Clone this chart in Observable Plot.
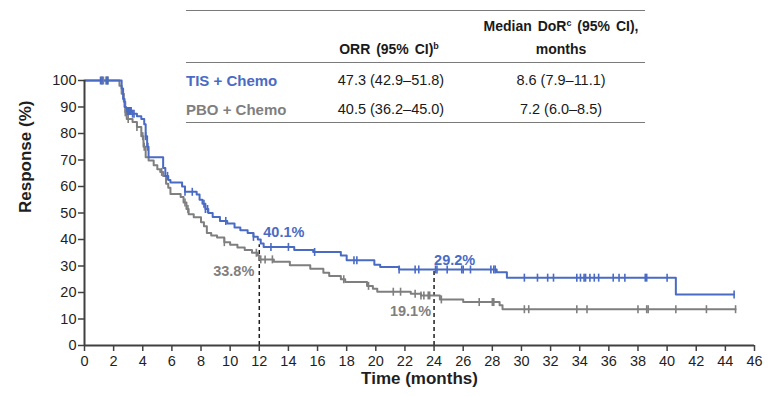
<!DOCTYPE html>
<html>
<head>
<meta charset="utf-8">
<script src="https://cdn.jsdelivr.net/npm/d3@7"></script>
<script src="https://cdn.jsdelivr.net/npm/@observablehq/plot@0.6"></script>
<style>
  html, body { margin: 0; padding: 0; background: #fff; }
  #wrap { position: relative; width: 769px; height: 396px; font-family: "Liberation Sans", Arial, sans-serif; overflow: hidden; }
  #wrap svg { position: absolute; left: 0; top: 0; }
  .tl { position: absolute; left: 186px; width: 459px; height: 0; border-top: 1.5px solid #7a7a7a; }
  .tx { position: absolute; line-height: 17px; white-space: nowrap; color: #1a1a1a; }
  .hd { font-weight: bold; font-size: 14px; word-spacing: 2px; text-align: center; width: 220px; }
  .val { font-size: 14.5px; text-align: center; width: 220px; }
  .arm { font-weight: bold; font-size: 15px; left: 186px; }
  sup { font-size: 9px; vertical-align: 5px; line-height: 0; }
</style>
</head>
<body>
<div id="wrap"></div>
<script>
// ---- data ----
const xTicks = [0, 2, 4, 6, 8, 10, 12, 14, 16, 18, 20, 22, 24, 26, 28, 30, 32, 34, 36, 38, 40, 42, 44, 46];
const yTicks = [0, 10, 20, 30, 40, 50, 60, 70, 80, 90, 100];

const armNames = ["TIS + Chemo", "PBO + Chemo"];
const orrValues = ["47.3 (42.9–51.8)", "40.5 (36.2–45.0)"];
const dorValues = ["8.6 (7.9–11.1)", "7.2 (6.0–8.5)"];

const blueTime = [0, 2.55, 2.65, 2.75, 2.85, 3.3, 3.6, 3.9, 4.1, 4.2, 4.3, 4.4, 5.4, 5.55, 5.75, 5.9, 6.7, 6.9, 7.7, 7.9, 8.1, 8.3, 8.5, 8.8, 9.3, 9.8, 10.3, 10.7, 11.2, 11.6, 11.9, 12.1, 12.3, 14.4, 15.7, 17.6, 18.0, 19.9, 20.3, 21.6, 28.3, 29.0, 40.6, 44.6];
const blueSurv = [100, 97, 93, 90, 88.5, 87.5, 86.5, 85.5, 83.5, 79, 75, 71, 67, 64, 62.5, 61.5, 60, 58, 57, 55, 53.5, 51.5, 50, 48.5, 47, 46, 44.5, 43.5, 42.5, 41, 40, 38.5, 37.2, 36, 35.3, 34, 32.2, 30.5, 29.6, 28.7, 27.6, 25.6, 19.2, 19.2];
const blueCensor = [1.1, 1.2, 1.5, 1.6, 2.95, 3.0, 3.05, 3.1, 3.15, 3.2, 3.3, 3.4, 4.2, 4.35, 5.7, 6.9, 7.4, 8.2, 8.3, 8.45, 9.7, 11.6, 12.8, 14.0, 15.8, 18.5, 18.7, 21.6, 22.7, 22.95, 24.1, 24.2, 24.9, 25.9, 26.0, 26.5, 27.9, 28.1, 28.2, 30.2, 31.1, 31.8, 32.2, 33.8, 34.05, 34.3, 34.4, 34.7, 35.0, 35.3, 36.3, 36.7, 37.1, 38.5, 38.6, 40.0, 44.6];

const grayTime = [0, 2.4, 2.55, 2.7, 2.8, 2.9, 3.3, 3.6, 3.9, 4.05, 4.2, 4.4, 4.75, 5.0, 5.2, 5.4, 5.6, 5.75, 5.9, 6.6, 6.8, 7.0, 7.15, 7.5, 8.0, 8.2, 8.4, 8.7, 9.1, 9.6, 10.0, 10.5, 11.0, 11.5, 11.9, 12.0, 13.0, 14.1, 15.5, 16.4, 16.8, 17.6, 17.9, 19.4, 19.8, 20.1, 22.4, 23.1, 24.4, 26.0, 28.5, 28.7, 44.7];
const graySurv = [100, 98, 95, 92, 88, 85.5, 84.3, 82.5, 79, 75, 71, 69.8, 68, 66.5, 65.5, 64, 61, 59.5, 57.2, 56, 54, 51.5, 49.5, 48.4, 46.5, 45, 42.5, 41.5, 40.8, 39, 38, 37, 36, 35, 34, 32.5, 31.6, 30.3, 29, 27.5, 26.2, 25, 24, 22.5, 21.4, 20.3, 19.5, 18.9, 17.4, 16.4, 15.2, 13.7, 13.7];
const grayCensor = [1.2, 1.3, 1.5, 1.6, 2.8, 3.0, 3.6, 4.0, 4.1, 5.3, 6.9, 7.1, 9.6, 11.8, 12.1, 12.4, 12.9, 17.8, 19.5, 21.2, 21.7, 22.7, 23.1, 23.3, 23.6, 23.7, 24.5, 27.1, 28.0, 28.1, 30.2, 30.5, 33.8, 34.5, 38.0, 38.6, 38.7, 40.6, 42.7, 44.7];

const landmarkTimes = [12, 24];
const landmarkTops = [38, 28];
const blueLabels = [{t: 12, v: 40.1, text: "40.1%"}, {t: 24, v: 29.2, text: "29.2%"}];
const grayLabels = [{t: 12, v: 33.8, text: "33.8%"}, {t: 24, v: 19.1, text: "19.1%"}];

// ---- build ----
const BLUE = "#4a6bc4", GRAY = "#7f7f7f", INK = "#1f1f1f", AX = "#404040";
const FONT = "'Liberation Sans', Arial, sans-serif";

const toSeries = (ts, ss) => ts.map((t, i) => ({t, s: ss[i]}));
const survAt = (ts, ss, t) => { let k = 0; for (let i = 0; i < ts.length; i++) if (ts[i] <= t) k = i; return ss[k]; };
const censorPts = (cs, ts, ss) => cs.map(t => ({t, s: survAt(ts, ss, t)}));

const vline = { draw(ctx, size) { const h = Math.sqrt(size / Math.PI); ctx.moveTo(0, -h); ctx.lineTo(0, h); } };

const blueData = toSeries(blueTime, blueSurv);
const grayData = toSeries(grayTime, graySurv);
const dashes = landmarkTimes.map((t, i) => ({t, top: landmarkTops[i]}));

const chart = Plot.plot({
  width: 769, height: 396,
  marginLeft: 84, marginRight: 15, marginTop: 80, marginBottom: 51,
  style: {fontFamily: FONT, background: "transparent", overflow: "visible"},
  x: {domain: [0, 46]},
  y: {domain: [0, 100]},
  marks: [
    Plot.ruleX(dashes, {x: "t", y1: 0, y2: "top", stroke: INK, strokeWidth: 1.5, strokeDasharray: "4,3"}),
    Plot.line(grayData, {x: "t", y: "s", curve: "step-after", stroke: GRAY, strokeWidth: 2}),
    Plot.line(blueData, {x: "t", y: "s", curve: "step-after", stroke: BLUE, strokeWidth: 2}),
    Plot.dot(censorPts(grayCensor, grayTime, graySurv), {x: "t", y: "s", symbol: vline, r: 4, stroke: GRAY, strokeWidth: 1.6, fill: "none"}),
    Plot.dot(censorPts(blueCensor, blueTime, blueSurv), {x: "t", y: "s", symbol: vline, r: 4, stroke: BLUE, strokeWidth: 1.6, fill: "none"}),
    Plot.ruleY([0], {x1: 0, x2: 46, stroke: AX, strokeWidth: 2}),
    Plot.ruleX([0], {y1: 0, y2: 100, stroke: AX, strokeWidth: 2}),
    Plot.axisX({ticks: xTicks, tickSize: 6, tickPadding: 4, tickFormat: d => String(d), fontSize: 14.5, label: null, stroke: AX, strokeWidth: 1.5, color: INK}),
    Plot.axisY({ticks: yTicks, tickSize: 6, tickPadding: 2, tickFormat: d => String(d), fontSize: 14.5, label: null, stroke: AX, strokeWidth: 1.5, color: INK}),
    Plot.text(blueLabels.slice(0, 1), {x: "t", y: "v", text: "text", textAnchor: "start", dx: 4, dy: -7, fill: BLUE, fontWeight: "bold", fontSize: 14.5}),
    Plot.text(blueLabels.slice(1), {x: "t", y: "v", text: "text", textAnchor: "start", dx: 0, dy: -8, fill: BLUE, fontWeight: "bold", fontSize: 14.5}),
    Plot.text(grayLabels.slice(0, 1), {x: "t", y: "v", text: "text", textAnchor: "end", dx: -5, dy: 15, fill: GRAY, fontWeight: "bold", fontSize: 14.5}),
    Plot.text(grayLabels.slice(1), {x: "t", y: "v", text: "text", textAnchor: "end", dx: -3, dy: 16, fill: GRAY, fontWeight: "bold", fontSize: 14.5}),
    Plot.text(["Time (months)"], {frameAnchor: "bottom", dy: 38, text: d => d, fontWeight: "bold", fontSize: 17, fill: INK}),
    Plot.text(["Response (%)"], {frameAnchor: "left", dx: -59, rotate: -90, text: d => d, fontWeight: "bold", fontSize: 17, fill: INK})
  ]
});

const wrap = document.getElementById("wrap");
wrap.appendChild(chart);

// ---- table overlay ----
function add(cls, html, style) {
  const d = document.createElement("div");
  d.className = cls; d.innerHTML = html; Object.assign(d.style, style); wrap.appendChild(d); return d;
}
add("tl", "", {top: "10px"});
add("tl", "", {top: "62px"});
add("tl", "", {top: "122px"});
add("tx hd", "ORR (95% CI)<sup>b</sup>", {left: (389 - 110) + "px", top: "41px"});
add("tx hd", "Median DoR<sup>c</sup> (95% CI),", {left: (561 - 110) + "px", top: "17.5px"});
add("tx hd", "months", {left: (561 - 110) + "px", top: "41px"});
const armColors = [BLUE, GRAY];
const rowTops = [71.5, 100.5];
armNames.forEach((name, i) => {
  add("tx arm", name, {top: rowTops[i] + "px", color: armColors[i]});
  add("tx val", orrValues[i], {left: (391 - 110) + "px", top: rowTops[i] + "px"});
  add("tx val", dorValues[i], {left: (561 - 110) + "px", top: rowTops[i] + "px"});
});
</script>
</body>
</html>
